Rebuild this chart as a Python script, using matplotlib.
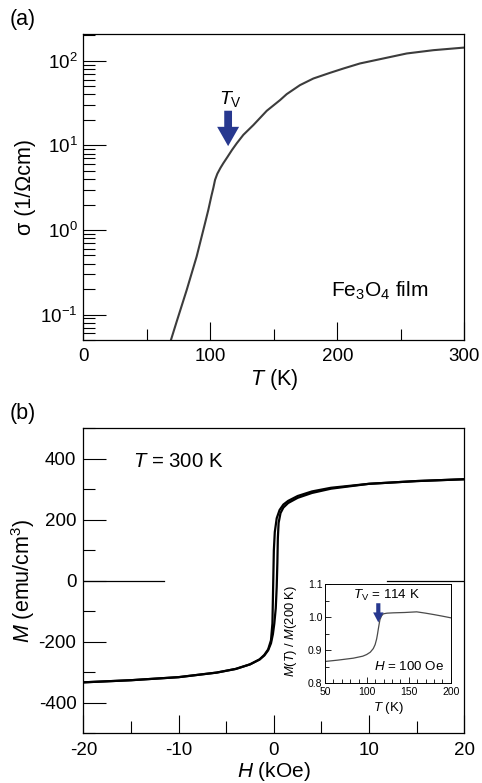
import matplotlib
matplotlib.use("Agg")
import matplotlib.pyplot as plt
from matplotlib.ticker import LogLocator, NullFormatter, MultipleLocator

plt.rcParams['font.family'] = ['Liberation Sans', 'DejaVu Sans']
plt.rcParams['mathtext.fontset'] = 'custom'
plt.rcParams['mathtext.rm'] = 'Liberation Sans'
plt.rcParams['mathtext.it'] = 'Liberation Sans:italic'
plt.rcParams['mathtext.bf'] = 'Liberation Sans:bold'
plt.rcParams['axes.unicode_minus'] = False

# (a) conductivity vs temperature (log10 of sigma)
temp_a = [69.0, 73.5, 81.4, 89.2, 95.8, 98.4, 100.8, 102.4, 103.7, 105.5,
          108.0, 110.2, 113.6, 117.0, 120.8, 126.0, 133.9, 144.4, 154.9, 160.1,
          170.6, 181.1, 194.2, 204.7, 217.8, 236.2, 254.6, 275.6, 300.0]
log_sigma = [-1.30, -1.083, -0.709, -0.315, 0.079, 0.237, 0.400, 0.500, 0.592,
             0.665, 0.735, 0.789, 0.866, 0.945, 1.025, 1.125, 1.241, 1.409,
             1.536, 1.606, 1.713, 1.791, 1.858, 1.909, 1.969, 2.028, 2.087,
             2.126, 2.157]
sigma = [10 ** v for v in log_sigma]
sigma_ticks = [0.1, 1, 10, 100]
sigma_labels = ['10$^{-1}$', '10$^{0}$', '10$^{1}$', '10$^{2}$']
temp_ticks = [0, 100, 200, 300]

# (b) hysteresis loop at 300 K
h_down = [20, 15, 10, 6, 4, 2.5, 1.5, 1.0, 0.6, 0.3, 0.1, 0.0, -0.05, -0.1,
          -0.15, -0.3, -0.6, -1.0, -1.5, -2.5, -4, -6, -10, -15, -20]
m_down = [333, 327, 318, 305, 293, 278, 262, 250, 232, 205, 160, 100, 20, -60,
          -140, -195, -225, -243, -258, -274, -289, -301, -316, -326, -333]
h_up = [-20, -15, -10, -6, -4, -2.5, -1.5, -1.0, -0.6, -0.3, -0.1, 0.05, 0.2,
        0.3, 0.37, 0.42, 0.5, 0.7, 1.0, 1.5, 2.5, 4, 6, 10, 15, 20]
m_up = [-333, -326, -316, -301, -289, -274, -258, -245, -228, -205, -175, -140,
        -90, -20, 60, 140, 190, 222, 240, 255, 272, 288, 302, 318, 327, 333]
h_ticks = [-20, -10, 0, 10, 20]
m_ticks = [-400, -200, 0, 200, 400]
zero_spans = [(0.0, 0.2126), (0.796, 1.0)]

# inset: M(T)/M(200 K)
temp_in = [50, 65, 83.8, 95, 99.7, 104, 107.6, 109.8, 111.6, 112.6, 113.6,
           114.6, 115.6, 117.5, 119.6, 124, 131.5, 145, 159.4, 170, 179.3,
           190, 200]
m_ratio = [0.866, 0.870, 0.876, 0.882, 0.887, 0.894, 0.905, 0.917, 0.934,
           0.948, 0.964, 0.979, 0.993, 1.004, 1.010, 1.012, 1.013, 1.014,
           1.016, 1.012, 1.008, 1.003, 0.998]

blue = '#27388f'

fig = plt.figure(figsize=(4.82, 7.83), dpi=100)

# ---------- panel (a)
ax1 = fig.add_axes([0.1729, 0.5658, 0.7905, 0.3904])
ax1.plot(temp_a, sigma, color='#3c3c3c', lw=1.5)
ax1.set_yscale('log')
ax1.set_xlim(0, 300)
ax1.set_ylim(0.05, 206)
ax1.set_yticks(sigma_ticks, sigma_labels)
ax1.yaxis.set_minor_locator(LogLocator(base=10, subs=range(2, 10)))
ax1.yaxis.set_minor_formatter(NullFormatter())
ax1.set_xticks(temp_ticks)
ax1.xaxis.set_minor_locator(MultipleLocator(50))
ax1.tick_params(axis='y', which='major', direction='in', length=16.5, width=0.8, labelsize=13.5, pad=4)
ax1.tick_params(axis='y', which='minor', direction='in', length=8.8, width=0.8)
ax1.tick_params(axis='x', which='major', direction='in', length=13, width=0.8, labelsize=13.5, pad=6)
ax1.tick_params(axis='x', which='minor', direction='in', length=8, width=0.8)
for s in ax1.spines.values():
    s.set_linewidth(0.9)
ax1.set_xlabel('$T$ (K)', fontsize=15.5)
ax1.xaxis.set_label_coords(0.5, -0.1285)
ax1.xaxis.label.set_va('center')
ax1.set_ylabel('σ (1/Ωcm)', fontsize=15.5)
ax1.yaxis.set_label_coords(-0.153, 0.5)
ax1.yaxis.label.set_va('center')

ax1.annotate('', xy=(114, 9.8), xytext=(114, 25.7),
             arrowprops=dict(arrowstyle='simple,head_length=1.39,head_width=1.58,tail_width=0.56',
                             color=blue, lw=0, shrinkA=0, shrinkB=0, mutation_scale=10))
ax1.text(115.7, 35.5, '$T_\\mathrm{V}$', fontsize=14, ha='center', va='center')
ax1.text(195, 0.19, 'Fe$_3$O$_4$ film', fontsize=15, ha='left', va='center')

# ---------- panel (b)
ax2 = fig.add_axes([0.1729, 0.0635, 0.7905, 0.3895])
ax2.plot(h_down, m_down, color='black', lw=1.6)
ax2.plot(h_up, m_up, color='black', lw=1.6)
for x0, x1 in zero_spans:
    ax2.axhline(0, xmin=x0, xmax=x1, color='black', lw=0.9)
ax2.set_xlim(-20, 20)
ax2.set_ylim(-500, 500)
ax2.set_xticks(h_ticks)
ax2.set_yticks(m_ticks)
ax2.xaxis.set_minor_locator(MultipleLocator(5))
ax2.yaxis.set_minor_locator(MultipleLocator(100))
ax2.tick_params(axis='y', which='major', direction='in', length=16.5, width=0.8, labelsize=13.5, pad=5)
ax2.tick_params(axis='y', which='minor', direction='in', length=8.8, width=0.8)
ax2.tick_params(axis='x', which='major', direction='in', length=13, width=0.8, labelsize=13.5, pad=6)
ax2.tick_params(axis='x', which='minor', direction='in', length=8.5, width=0.8)
for s in ax2.spines.values():
    s.set_linewidth(0.9)
ax2.set_xlabel('$H$ (kOe)', fontsize=15)
ax2.xaxis.set_label_coords(0.5, -0.126)
ax2.xaxis.label.set_va('center')
ax2.set_ylabel('$M$ (emu/cm$^3$)', fontsize=15.5)
ax2.yaxis.set_label_coords(-0.158, 0.5)
ax2.yaxis.label.set_va('center')
ax2.text(-14.75, 391, '$T$ = 300 K', fontsize=14.7, ha='left', va='center')

# ---------- inset
ax3 = fig.add_axes([0.6743, 0.1273, 0.2608, 0.1268])
ax3.plot(temp_in, m_ratio, color='#4a4a4a', lw=0.9)
ax3.set_xlim(50, 200)
ax3.set_ylim(0.8, 1.1)
ax3.set_xticks([50, 100, 150, 200])
ax3.set_yticks([0.8, 0.9, 1.0, 1.1], ['0.8', '0.9', '1.0', '1.1'])
ax3.xaxis.set_minor_locator(MultipleLocator(10))
ax3.yaxis.set_minor_locator(MultipleLocator(0.05))
ax3.tick_params(which='major', direction='in', length=4.5, width=0.6, labelsize=7.5)
ax3.tick_params(axis='x', which='major', pad=2.6)
ax3.tick_params(axis='y', which='major', pad=1.8)
ax3.tick_params(which='minor', direction='in', length=3, width=0.6)
for s in ax3.spines.values():
    s.set_linewidth(0.7)
ax3.set_xlabel('$T$ (K)', fontsize=9.5)
ax3.xaxis.set_label_coords(0.5, -0.245)
ax3.xaxis.label.set_va('center')
ax3.set_ylabel('$M$($T$) / $M$(200 K)', fontsize=9.3)
ax3.yaxis.set_label_coords(-0.27, 0.527)
ax3.yaxis.label.set_va('center')
ax3.annotate('', xy=(113.6, 0.984), xytext=(113.6, 1.042),
             arrowprops=dict(arrowstyle='simple,head_length=0.72,head_width=0.75,tail_width=0.3',
                             color=blue, lw=0, shrinkA=0, shrinkB=0, mutation_scale=10))
ax3.text(123.2, 1.067, '$T_\\mathrm{V}$ = 114 K', fontsize=9.6, ha='center', va='center')
ax3.text(192, 0.851, '$H$ = 100 Oe', fontsize=9.6, ha='right', va='center')

fig.text(23 / 482, 1 - 19 / 783, '(a)', fontsize=15.5, ha='center', va='center')
fig.text(23 / 482, 1 - 413 / 783, '(b)', fontsize=15.5, ha='center', va='center')

fig.savefig('out.png', dpi=100)
